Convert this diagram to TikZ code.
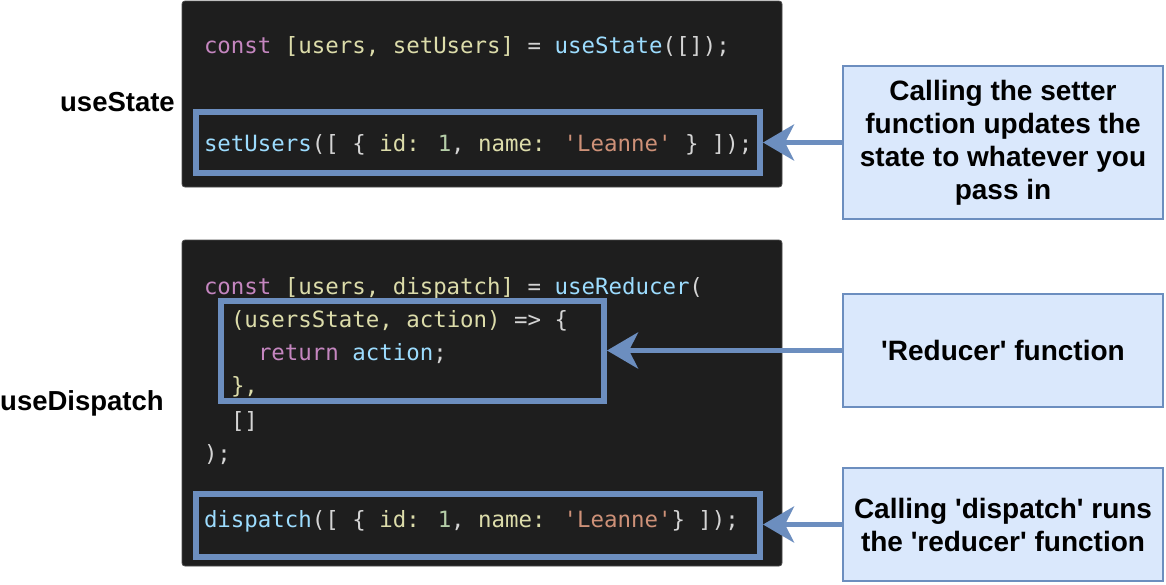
\documentclass[tikz,border=0pt]{standalone}
\usepackage{fontspec}
\newfontfamily\labelfont{Liberation Sans}[Ligatures=TeXOff]
\newfontfamily\codefont{DejaVu Sans Mono}[Ligatures=TeXOff]
\usetikzlibrary{arrows.meta}
\definecolor{codebg}{HTML}{1E1E1E}
\definecolor{codeedge}{HTML}{4A4A4A}
\definecolor{ckw}{HTML}{C586C0}
\definecolor{cva}{HTML}{DCDCAA}
\definecolor{cfn}{HTML}{9CDCFE}
\definecolor{cst}{HTML}{CE9178}
\definecolor{cnu}{HTML}{B5CEA8}
\definecolor{cpl}{HTML}{D4D4D4}
\definecolor{hl}{HTML}{6C8EBF}
\definecolor{callfill}{HTML}{DAE8FC}
\newcommand\tkw[1]{\textcolor{ckw}{#1}}
\newcommand\tva[1]{\textcolor{cva}{#1}}
\newcommand\tfn[1]{\textcolor{cfn}{#1}}
\newcommand\tst[1]{\textcolor{cst}{#1}}
\newcommand\tnu[1]{\textcolor{cnu}{#1}}
\tikzset{
  codebox/.style={anchor=north west, fill=codebg, draw=codeedge, line width=0.8pt, rounded corners=3pt, inner sep=0, outer sep=0},
  codeline/.style={anchor=base west, inner sep=0, outer sep=0, text=cpl, font=\codefont\fontsize{22.4}{26}\selectfont},
  hlbox/.style={anchor=north west, draw=hl, line width=6pt, inner sep=0, outer sep=3pt},
  callout/.style={anchor=north west, fill=callfill, draw=hl, line width=1.5pt, inner sep=0, outer sep=0, align=center, font=\labelfont\fontsize{28}{33}\selectfont\bfseries},
  sidelabel/.style={inner sep=0, font=\labelfont\fontsize{27.5}{32}\selectfont\bfseries},
  pointer/.style={draw=hl, line width=5.5pt, -{Stealth[length=31pt, width=36pt, inset=9pt]}}
}
\begin{document}
\begin{tikzpicture}[x=1pt, y=-1pt]
\useasboundingbox (0,0) rectangle (1166,584);
% code boxes
\node[codebox, minimum width=600, minimum height=186] (code1) at (182,1) {};
\node[codebox, minimum width=600, minimum height=326] (code2) at (182,240) {};
% top code
\node[codeline] (l1) at (204,53) {\tkw{const} \tva{[users, setUsers]} = \tfn{useState}([]);};
\node[codeline] (l2) at (204,151) {\tfn{setUsers}([ \{ \tva{id:} \tnu{1}, \tva{name:} \tst{'Leanne'} \} ]);};
% bottom code
\node[codeline] (m1) at (204,294) {\tkw{const} \tva{[users, dispatch]} = \tfn{useReducer}(};
\node[codeline] (m2) at (231,327) {\tva{(usersState, action)} => \{};
\node[codeline] (m3) at (258,360) {\tkw{return} \tfn{action};};
\node[codeline] (m4) at (231,393) {\tva{\},}};
\node[codeline] (m5) at (231,428) {[]};
\node[codeline] (m6) at (204,461) {);};
\node[codeline] (m7) at (204,527) {\tfn{dispatch}([ \{ \tva{id:} \tnu{1}, \tva{name:} \tst{'Leanne'}\} ]);};
% highlight boxes (anchor = outer edge of the stroke)
\node[hlbox, minimum width=564, minimum height=61] (hset) at (193,109) {};
\node[hlbox, minimum width=383, minimum height=100] (hred) at (218,298) {};
\node[hlbox, minimum width=564, minimum height=63] (hdis) at (193,491) {};
% side labels
\node[sidelabel, anchor=east] (lstate) at (175,102) {useState};
\node[sidelabel, anchor=west] (ldisp) at (0,403) {useDispatch};
% callouts
\node[callout, minimum width=320, minimum height=153] (c1) at (843,66) {Calling the setter\\function updates the\\state to whatever you\\pass in};
\node[callout, minimum width=320, minimum height=113] (c2) at (843,294) {'Reducer' function};
\node[callout, minimum width=320, minimum height=113] (c3) at (843,468) {Calling 'dispatch' runs\\the 'reducer' function};
% arrows
\draw[pointer] (c1.west) -- (c1.west -| hset.east);
\draw[pointer] (c2.west) -- (c2.west -| hred.east);
\draw[pointer] (c3.west) -- (c3.west -| hdis.east);
\end{tikzpicture}
\end{document}
